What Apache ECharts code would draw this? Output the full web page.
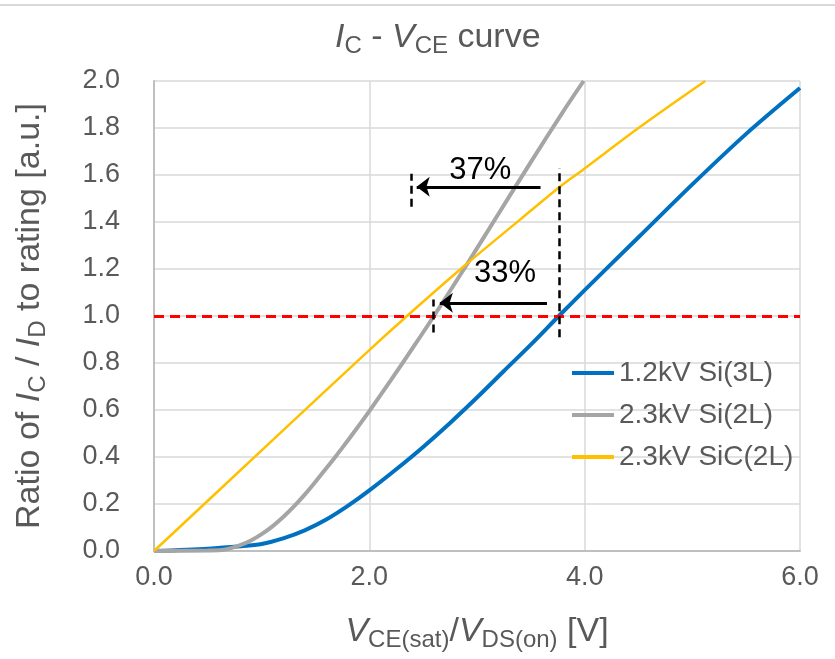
<!DOCTYPE html>
<html>
<head>
<meta charset="utf-8">
<script src="https://cdn.jsdelivr.net/npm/echarts@6/dist/echarts.min.js"></script>
<style>
html, body { margin: 0; padding: 0; background: #fff; }
#chart { width: 835px; height: 659px; }
</style>
</head>
<body>
<div id="chart"></div>
<script>
// I-V curves, x = V (volts), y = ratio to rating
const seriesNames = ['1.2kV Si(3L)', '2.3kV Si(2L)', '2.3kV SiC(2L)']

const vBlue = [0, 0.5, 0.8, 1.0, 1.2, 1.4, 1.6, 1.8, 2.0, 2.25, 2.5, 2.75, 3.0, 3.25, 3.5, 3.76, 4.0, 4.5, 5.0, 5.5, 6.0]
const iBlue = [0, 0.01, 0.02, 0.03, 0.054, 0.088, 0.134, 0.192, 0.258, 0.348, 0.443, 0.545, 0.653, 0.766, 0.878, 1.0, 1.11, 1.335, 1.56, 1.775, 1.97]

const vGray = [0, 0.5, 0.65, 0.8, 0.9, 1.0, 1.1, 1.2, 1.3, 1.4, 1.5, 1.6, 1.7, 1.8, 1.9, 2.0, 2.2, 2.4, 2.6, 2.9, 3.2, 3.5, 3.8, 3.99]
const iGray = [0, 0.002, 0.005, 0.025, 0.045, 0.072, 0.105, 0.145, 0.19, 0.24, 0.295, 0.352, 0.41, 0.47, 0.532, 0.595, 0.727, 0.862, 1.0, 1.215, 1.435, 1.655, 1.87, 2.0]

const vYellow = [0, 1.0, 2.0, 2.35, 2.9, 3.4, 3.77, 4.0, 4.5, 5.12]
const iYellow = [0, 0.428, 0.855, 1.0, 1.22, 1.41, 1.55, 1.628, 1.8, 2.0]

// annotations
const refLevel = 1.0
const tallDash = [[3.765, 0.91], [3.765, 1.63]]
const shortDash37 = [[2.39, 1.465], [2.39, 1.605]]
const shortDash33 = [[2.595, 0.93], [2.595, 1.07]]
const arrow37 = [[3.59, 1.55], [2.44, 1.55]]
const arrow33 = [[3.65, 1.056], [2.655, 1.056]]
const pctLabels = ['37%', '33%']
const pctPos = [[3.03, 1.62], [3.26, 1.18]]

const textColor = '#595959'
const font = 'Arial, "Liberation Sans", sans-serif'

const pairs = (xs, ys) => xs.map((x, i) => [x, ys[i]])
const seg = s => [{ coord: s[0] }, { coord: s[1] }]

const richParts = (big, small) => ({
  n: { fontSize: big, lineHeight: 40, color: textColor, fontFamily: font, fontWeight: 'normal' },
  i: { fontSize: big, lineHeight: 40, color: textColor, fontFamily: font, fontWeight: 'normal', fontStyle: 'italic' },
  s: { fontSize: small, lineHeight: 22, color: textColor, fontFamily: font, fontWeight: 'normal', verticalAlign: 'bottom' }
})

let chart = echarts.init(document.getElementById('chart'))

let option = {
  animation: false,
  title: {
    text: '{i|I}{s|C}{n| - }{i|V}{s|CE}{n| curve}',
    left: 335,
    top: 18,
    padding: 0,
    textStyle: { fontWeight: 'normal', rich: richParts(34, 24) }
  },
  graphic: [
    {
      type: 'line',
      shape: { x1: 0, y1: 5, x2: 835, y2: 5 },
      style: { stroke: '#d9d9d9', lineWidth: 2 }
    }
  ],
  legend: {
    data: seriesNames,
    icon: 'rect',
    orient: 'vertical',
    left: 567,
    top: 354,
    itemWidth: 42,
    itemHeight: 4,
    itemGap: 14,
    textStyle: { fontSize: 28, color: textColor, fontFamily: font }
  },
  grid: {
    left: 154,
    right: 35,
    top: 81,
    bottom: 108
  },
  xAxis: {
    type: 'value',
    min: 0,
    max: 6,
    interval: 2,
    name: '{i|V}{s|CE(sat)}{n|/}{i|V}{s|DS(on)}{n| [V]}',
    nameLocation: 'middle',
    nameGap: 61,
    nameTextStyle: { rich: richParts(34, 24) },
    axisLine: { lineStyle: { color: '#bfbfbf', width: 2 } },
    axisTick: { show: false },
    axisLabel: {
      margin: 13,
      fontSize: 27,
      color: textColor,
      fontFamily: font,
      formatter: v => v.toFixed(1)
    },
    splitLine: { lineStyle: { color: '#d9d9d9', width: 1.5 } }
  },
  yAxis: {
    type: 'value',
    min: 0,
    max: 2,
    interval: 0.2,
    name: '{n|Ratio of }{i|I}{s|C}{n| / }{i|I}{s|D}{n| to rating [a.u.]}',
    nameLocation: 'middle',
    nameRotate: 90,
    nameGap: 104,
    nameTextStyle: { rich: richParts(34, 24) },
    axisLine: { show: true, lineStyle: { color: '#bfbfbf', width: 2 } },
    axisTick: { show: false },
    axisLabel: {
      margin: 34,
      fontSize: 27,
      color: textColor,
      fontFamily: font,
      formatter: v => v.toFixed(1)
    },
    splitLine: { lineStyle: { color: '#d9d9d9', width: 1.5 } }
  },
  series: [
    {
      name: 'annotations',
      type: 'line',
      data: [],
      silent: true,
      markLine: {
        silent: true,
        symbol: 'none',
        label: { show: false },
        data: [
          {
            yAxis: refLevel,
            lineStyle: { color: '#ff0000', width: 3, type: [10, 6] }
          },
          seg(tallDash),
          seg(shortDash37),
          seg(shortDash33)
        ],
        lineStyle: { color: '#000', width: 2.5, type: [8, 5] }
      }
    },
    {
      name: 'arrows',
      type: 'line',
      data: [],
      silent: true,
      markLine: {
        silent: true,
        symbol: ['none', 'arrow'],
        symbolSize: [15, 13],
        label: { show: false },
        lineStyle: { color: '#000', width: 3, type: 'solid' },
        data: [seg(arrow37), seg(arrow33)]
      },
      markPoint: {
        silent: true,
        symbol: 'circle',
        symbolSize: 0,
        label: {
          show: true,
          position: 'inside',
          fontSize: 31,
          color: '#000',
          fontFamily: font,
          formatter: p => p.name
        },
        data: pctLabels.map((t, i) => ({ name: t, coord: pctPos[i] }))
      }
    },
    {
      name: seriesNames[0],
      type: 'line',
      data: pairs(vBlue, iBlue),
      symbol: 'none',
      smooth: 0.3,
      itemStyle: { color: '#0070c0' },
      lineStyle: { color: '#0070c0', width: 4 }
    },
    {
      name: seriesNames[1],
      type: 'line',
      data: pairs(vGray, iGray),
      symbol: 'none',
      smooth: 0.3,
      itemStyle: { color: '#a5a5a5' },
      lineStyle: { color: '#a5a5a5', width: 4 }
    },
    {
      name: seriesNames[2],
      type: 'line',
      data: pairs(vYellow, iYellow),
      symbol: 'none',
      smooth: 0.3,
      itemStyle: { color: '#ffc000' },
      lineStyle: { color: '#ffc000', width: 2.5 }
    }
  ]
}

chart.setOption(option)
</script>
</body>
</html>
